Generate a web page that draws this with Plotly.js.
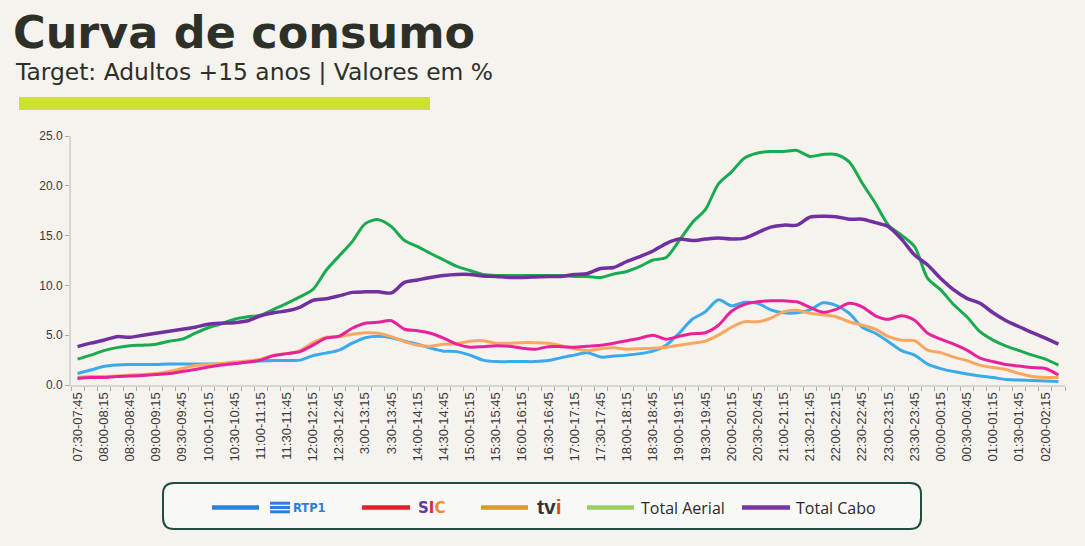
<!DOCTYPE html>
<html>
<head>
<meta charset="utf-8">
<script src="https://cdn.plot.ly/plotly-3.0.1.min.js"></script>
<style>
  html, body { margin: 0; padding: 0; background: #f6f3ee; }
  #chart { width: 1085px; height: 546px; }
</style>
</head>
<body>
<div id="chart"></div>
<script>
// ---------- DATA ----------
const categories = [
  "07:30-07:45","07:45-08:00","08:00-08:15","08:15-08:30","08:30-08:45","08:45-09:00",
  "09:00-09:15","09:15-09:30","09:30-09:45","09:45-10:00","10:00-10:15","10:15-10:30",
  "10:30-10:45","10:45-11:00","11:00-11:15","11:15-11:30","11:30-11:45","11:45-12:00",
  "12:00-12:15","12:15-12:30","12:30-12:45","12:45-13:00","3:00-13:15","13:15-13:30",
  "3:30-13:45","13:45-14:00","14:00-14:15","14:15-14:30","14:30-14:45","14:45-15:00",
  "15:00-15:15","15:15-15:30","15:30-15:45","15:45-16:00","16:00-16:15","16:15-16:30",
  "16:30-16:45","16:45-17:00","17:00-17:15","17:15-17:30","17:30-17:45","17:45-18:00",
  "18:00-18:15","18:15-18:30","18:30-18:45","18:45-19:00","19:00-19:15","19:15-19:30",
  "19:30-19:45","19:45-20:00","20:00-20:15","20:15-20:30","20:30-20:45","20:45-21:00",
  "21:00-21:15","21:15-21:30","21:30-21:45","21:45-22:00","22:00-22:15","22:15-22:30",
  "22:30-22:45","22:45-23:00","23:00-23:15","23:15-23:30","23:30-23:45","23:45-00:00",
  "00:00-00:15","00:15-00:30","00:30-00:45","00:45-01:00","01:00-01:15","01:15-01:30",
  "01:30-01:45","01:45-02:00","02:00-02:15","02:15-02:30"
];

const rtp1 = [
  1.15,1.5,1.85,2.0,2.05,2.05,2.05,2.1,2.1,2.1,2.1,2.1,2.15,2.3,2.4,2.45,2.45,2.5,2.95,3.2,
  3.5,4.2,4.75,4.9,4.75,4.4,4.1,3.7,3.4,3.35,3.0,2.5,2.35,2.35,2.35,2.35,2.45,2.75,3.0,3.25,
  2.8,2.9,3.0,3.15,3.4,4.0,5.2,6.6,7.35,8.55,7.95,8.3,8.2,7.55,7.25,7.25,7.55,8.25,8.0,7.2,
  5.8,5.2,4.35,3.45,3.0,2.1,1.65,1.35,1.1,0.9,0.75,0.55,0.5,0.45,0.4,0.35
];
const sic = [
  0.65,0.75,0.75,0.85,0.9,0.95,1.05,1.15,1.35,1.55,1.8,2.0,2.15,2.3,2.5,2.95,3.15,3.35,4.0,4.7,
  4.9,5.7,6.2,6.3,6.45,5.6,5.45,5.2,4.7,4.1,3.8,3.85,3.95,3.9,3.7,3.6,3.85,3.85,3.8,3.9,
  4.0,4.2,4.45,4.7,5.0,4.6,4.9,5.15,5.25,6.0,7.4,8.1,8.35,8.45,8.45,8.35,7.8,7.3,7.6,8.2,
  7.85,6.95,6.6,6.95,6.5,5.2,4.6,4.1,3.5,2.7,2.35,2.05,1.9,1.75,1.65,1.0
];
const tvi = [
  0.75,0.85,0.85,0.9,1.0,1.05,1.15,1.35,1.65,1.95,2.05,2.15,2.3,2.4,2.6,3.0,3.15,3.45,4.25,4.8,
  4.85,5.1,5.25,5.2,4.85,4.35,4.0,3.9,4.1,4.15,4.4,4.45,4.2,4.2,4.25,4.25,4.2,3.95,3.65,3.45,
  3.65,3.75,3.6,3.65,3.7,3.8,4.0,4.2,4.4,5.0,5.8,6.35,6.35,6.7,7.35,7.5,7.2,7.05,6.85,6.35,
  6.0,5.6,4.85,4.5,4.45,3.5,3.25,2.8,2.45,2.0,1.75,1.55,1.15,0.85,0.75,0.75
];
const totalAerial = [
  2.6,3.0,3.45,3.75,3.95,4.0,4.1,4.4,4.6,5.2,5.75,6.15,6.6,6.85,7.0,7.6,8.2,8.85,9.6,11.5,
  12.95,14.4,16.2,16.6,15.9,14.5,13.9,13.2,12.55,11.9,11.5,11.1,11.0,11.0,11.0,11.0,11.0,11.0,10.9,10.9,
  10.8,11.15,11.4,11.9,12.55,12.8,14.5,16.3,17.6,20.2,21.4,22.8,23.3,23.45,23.45,23.55,22.95,23.15,23.15,22.4,
  20.25,18.25,16.05,15.05,13.9,10.7,9.55,8.05,6.85,5.35,4.5,3.9,3.45,3.0,2.6,2.0
];
const totalCabo = [
  3.85,4.2,4.5,4.85,4.8,5.0,5.2,5.4,5.6,5.8,6.1,6.2,6.25,6.45,6.95,7.25,7.45,7.8,8.5,8.65,
  8.95,9.3,9.35,9.35,9.25,10.3,10.55,10.8,11.0,11.1,11.1,10.95,10.9,10.8,10.8,10.85,10.9,10.9,11.1,11.2,
  11.7,11.8,12.4,12.9,13.45,14.2,14.65,14.5,14.65,14.75,14.65,14.75,15.3,15.85,16.05,16.05,16.85,16.95,16.9,16.65,
  16.65,16.3,15.9,14.65,13.05,12.05,10.7,9.55,8.7,8.2,7.25,6.45,5.85,5.25,4.7,4.1
];

const seriesNames = ["RTP1", "SIC", "tvi", "Total Aerial", "Total Cabo"];
const yTickValues = [0, 5, 10, 15, 20, 25];
const titleText = "Curva de consumo";
const subtitleText = "Target: Adultos +15 anos | Valores em %";

// ---------- GEOMETRY HELPERS (pixel -> paper) ----------
const W = 1085, Hh = 546;
const M = { l: 71, r: 20, t: 136, b: 161 };
const PW = W - M.l - M.r, PH = Hh - M.t - M.b;
const PX = px => (px - M.l) / PW;
const PY = py => (M.t + PH - py) / PH;

const lineColors = ["#3aaaee", "#e8239a", "#f9a75e", "#1aab50", "#7030a0"];
const lineWidths = [3, 3, 3, 3, 3.5];
const seriesData = [rtp1, sic, tvi, totalAerial, totalCabo];

const traces = seriesData.map((ys, k) => ({
  type: "scatter",
  mode: "lines",
  x: categories,
  y: ys,
  name: seriesNames[k],
  showlegend: false,
  line: { color: lineColors[k], width: lineWidths[k], shape: "spline", smoothing: 0.8 },
  hoverinfo: "x+y+name"
}));
const ordered = [traces[3], traces[4], traces[0], traces[2], traces[1]];

// ---------- LEGEND (custom, drawn in margin) ----------
function roundedRectPath(x0, y0, x1, y1, r) {
  const p = (x, y) => PX(x) + "," + PY(y);
  return "M" + p(x0 + r, y0) + " L" + p(x1 - r, y0) + " Q" + p(x1, y0) + " " + p(x1, y0 + r) +
    " L" + p(x1, y1 - r) + " Q" + p(x1, y1) + " " + p(x1 - r, y1) +
    " L" + p(x0 + r, y1) + " Q" + p(x0, y1) + " " + p(x0, y1 - r) +
    " L" + p(x0, y0 + r) + " Q" + p(x0, y0) + " " + p(x0 + r, y0) + " Z";
}

const shapes = [];
const annotations = [];

// lime bar under subtitle
shapes.push({ type: "rect", xref: "paper", yref: "paper", x0: PX(19), x1: PX(430), y0: PY(110), y1: PY(97),
  fillcolor: "#cde22e", line: { width: 0 }, layer: "above" });

// legend box
shapes.push({ type: "path", xref: "paper", yref: "paper", path: roundedRectPath(163, 483, 921, 529, 11),
  fillcolor: "#f8f8f7", line: { color: "#1f4d40", width: 2 }, layer: "above" });

const legY = 507.5;
const legendLineColors = ["#2b80e0", "#e0232b", "#dd982e", "#9bcf5f", "#7a35a2"];
const legendLineX = [[212, 259], [362, 410], [481, 528], [587, 634], [742, 790]];
legendLineX.forEach((xx, k) => {
  shapes.push({ type: "line", xref: "paper", yref: "paper", x0: PX(xx[0]), x1: PX(xx[1]), y0: PY(legY), y1: PY(legY),
    line: { color: legendLineColors[k], width: 4.5 }, layer: "above" });
});
// RTP1 logo stripes
[503.2, 507.5, 511.8].forEach(yy => {
  shapes.push({ type: "line", xref: "paper", yref: "paper", x0: PX(270), x1: PX(290), y0: PY(yy), y1: PY(yy),
    line: { color: "#2b7de1", width: 3 }, layer: "above" });
});
annotations.push({ xref: "paper", yref: "paper", x: PX(291), y: PY(legY), xanchor: "left", yanchor: "middle",
  text: "<b>RTP1</b>", showarrow: false, font: { family: "DejaVu Sans", size: 11.5, color: "#2b7de1" } });
annotations.push({ xref: "paper", yref: "paper", x: PX(416), y: PY(legY), xanchor: "left", yanchor: "middle",
  text: "<b><span style='color:#5b3c9e'>S</span><span style='color:#d8283f'>I</span><span style='color:#ef8b2a'>C</span></b>",
  showarrow: false, font: { family: "DejaVu Sans", size: 15, color: "#5b3c9e" } });
annotations.push({ xref: "paper", yref: "paper", x: PX(535), y: PY(legY - 1), xanchor: "left", yanchor: "middle",
  text: "<b>tv<span style='color:#e8461e'>i</span></b>", showarrow: false,
  font: { family: "Liberation Sans", size: 21, color: "#333333" } });
annotations.push({ xref: "paper", yref: "paper", x: PX(639), y: PY(legY), xanchor: "left", yanchor: "middle",
  text: seriesNames[3], showarrow: false, font: { family: "Open Sans", size: 16, color: "#2a2a2a" } });
annotations.push({ xref: "paper", yref: "paper", x: PX(794), y: PY(legY), xanchor: "left", yanchor: "middle",
  text: seriesNames[4], showarrow: false, font: { family: "Open Sans", size: 16, color: "#2a2a2a" } });

// titles
annotations.push({ xref: "paper", yref: "paper", x: PX(12), y: PY(32.5), xanchor: "left", yanchor: "middle",
  text: "<b>" + titleText + "</b>", showarrow: false, borderpad: 0,
  font: { family: "DejaVu Sans", size: 44.5, color: "#2c3029" } });
annotations.push({ xref: "paper", yref: "paper", x: PX(14), y: PY(72.5), xanchor: "left", yanchor: "middle",
  text: subtitleText, showarrow: false, borderpad: 0,
  font: { family: "DejaVu Sans", size: 23.4, color: "#2c3029" } });

const layout = {
  width: W, height: Hh,
  margin: M,
  paper_bgcolor: "#f6f3ee",
  plot_bgcolor: "#f6f3ee",
  showlegend: false,
  xaxis: {
    type: "category",
    range: [-0.5, categories.length - 0.5],
    tickmode: "array",
    tickvals: categories,
    ticktext: categories.map((c, i) => (i % 2 === 0 ? c : "")),
    tickson: "boundaries",
    ticks: "outside", ticklen: 4, tickwidth: 1, tickcolor: "#a8a8a8",
    tickangle: -90,
    tickfont: { family: "Liberation Sans", size: 13, color: "#3a3a3a" },
    showline: true, linecolor: "#d6d6d6", linewidth: 2,
    showgrid: false, zeroline: false, fixedrange: true
  },
  yaxis: {
    range: [0, 25],
    tickmode: "array",
    tickvals: yTickValues,
    tickformat: ".1f",
    ticks: "outside", ticklen: 4, tickwidth: 1, tickcolor: "#a8a8a8",
    tickfont: { family: "Liberation Sans", size: 12, color: "#3a3a3a" },
    showline: true, linecolor: "#d6d6d6", linewidth: 2,
    showgrid: false, zeroline: false, fixedrange: true
  },
  shapes: shapes,
  annotations: annotations
};

Plotly.newPlot("chart", ordered, layout, { displayModeBar: false, staticPlot: true });
</script>
</body>
</html>
